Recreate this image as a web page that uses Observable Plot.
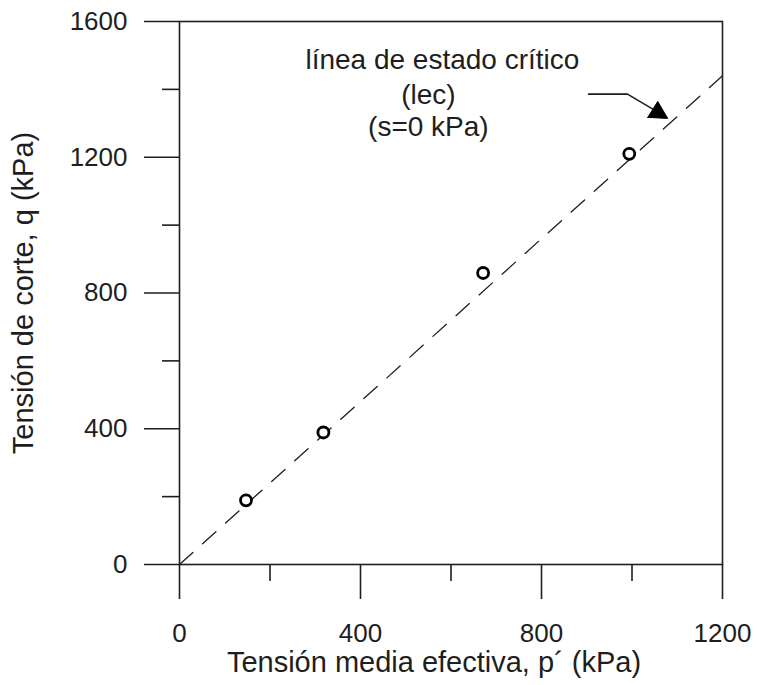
<!DOCTYPE html>
<html>
<head>
<meta charset="utf-8">
<script src="https://cdn.jsdelivr.net/npm/d3@7"></script>
<script src="https://cdn.jsdelivr.net/npm/@observablehq/plot@0.6"></script>
<style>
  html, body { margin: 0; padding: 0; background: white; }
</style>
</head>
<body>
<div id="chart"></div>
<script>
// Measured points: effective mean stress p' (kPa) and shear stress q (kPa)
const pValues = [147, 318, 671, 994];
const qValues = [189, 389, 859, 1210];

// Critical state line (lec), s = 0 kPa
const lecP = [0, 1200];
const lecQ = [0, 1440];

// Ticks
const xMajorTicks = [0, 400, 800, 1200];
const xMinorTicks = [200, 600, 1000];
const yMajorTicks = [0, 400, 800, 1200, 1600];
const yMinorTicks = [200, 600, 1000, 1400];

// Annotation
const noteLines = ["línea de estado crítico", "(lec)", "(s=0 kPa)"];
const noteP = [581, 550, 550];
const noteQ = [1487, 1383, 1289];
const arrowP = [904, 990, 1047];
const arrowQ = [1386, 1386, 1341];
const headP = [1036, 1058, 1080];
const headQLow = [1316, 1314.5, 1313];
const headQHigh = [1316, 1363, 1313];

const xLabel = "Tensión media efectiva, p´ (kPa)";
const yLabel = "Tensión de corte, q (kPa)";

const points = pValues.map((p, i) => ({p, q: qValues[i]}));
const lec = lecP.map((p, i) => ({p, q: lecQ[i]}));
const notes = noteLines.map((t, i) => ({t, p: noteP[i], q: noteQ[i]}));
const arrow = arrowP.map((p, i) => ({p, q: arrowQ[i]}));
const head = headP.map((p, i) => ({p, q1: headQLow[i], q2: headQHigh[i]}));

const ink = "#1e1e1e";
const fmt = d => String(d);

const chart = Plot.plot({
  width: 757,
  height: 685,
  marginLeft: 179,
  marginRight: 35,
  marginTop: 21,
  marginBottom: 121,
  x: {domain: [0, 1200]},
  y: {domain: [0, 1600]},
  style: {fontFamily: "'Liberation Sans', Arial, sans-serif", fontSize: "26px", color: ink, background: "white"},
  marks: [
    Plot.line(lec, {x: "p", y: "q", stroke: ink, strokeWidth: 1.3, strokeDasharray: "18,13"}),
    Plot.frame({stroke: ink, strokeWidth: 1.6}),
    Plot.axisX({ticks: xMajorTicks, tickSize: 35, tickPadding: 24, fontSize: 26, tickFormat: fmt, label: null, stroke: ink, strokeWidth: 1.6}),
    Plot.axisX({ticks: xMinorTicks, tickSize: 17, tickFormat: () => "", label: null, stroke: ink, strokeWidth: 1.6}),
    Plot.axisY({ticks: yMajorTicks, tickSize: 35, tickPadding: 17, fontSize: 26, tickFormat: fmt, label: null, stroke: ink, strokeWidth: 1.6}),
    Plot.axisY({ticks: yMinorTicks, tickSize: 17, tickFormat: () => "", label: null, stroke: ink, strokeWidth: 1.6}),
    Plot.dot(points, {x: "p", y: "q", r: 5.5, stroke: "black", strokeWidth: 2.8, fill: "white"}),
    Plot.line(arrow, {x: "p", y: "q", stroke: ink, strokeWidth: 1.6}),
    Plot.areaY(head, {x: "p", y1: "q1", y2: "q2", fill: "black", stroke: "black", strokeWidth: 1}),
    Plot.text(notes, {x: "p", y: "q", text: "t", fontSize: 28, fill: ink}),
    Plot.text([xLabel], {frameAnchor: "bottom", lineAnchor: "middle", textAnchor: "middle", dy: 98, dx: -17, fontSize: 29, fill: ink}),
    Plot.text([yLabel], {frameAnchor: "left", lineAnchor: "middle", textAnchor: "middle", dx: -156, rotate: -90, fontSize: 29, fill: ink})
  ]
});

document.getElementById("chart").appendChild(chart);
</script>
</body>
</html>
